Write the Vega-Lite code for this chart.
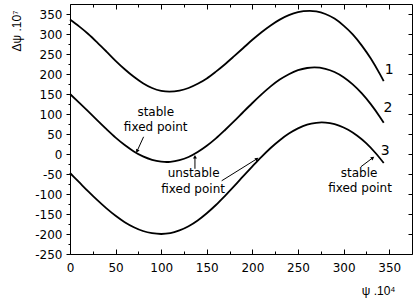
{
  "$schema": "https://vega.github.io/schema/vega-lite/v6.json",
  "width": 342,
  "height": 250,
  "autosize": {"type": "none"},
  "padding": {"left": 70, "top": 4, "right": 3, "bottom": 45},
  "background": "white",
  "config": {
    "view": {"stroke": "black", "strokeWidth": 1},
    "axis": {
      "grid": false,
      "domain": false,
      "labelFont": "DejaVu Sans",
      "labelFontSize": 12,
      "labelColor": "black",
      "tickColor": "black",
      "tickWidth": 1,
      "labelFlush": false,
      "titleFont": "Liberation Sans",
      "titleFontSize": 12,
      "titleFontWeight": "normal",
      "titleColor": "black"
    },
    "text": {"font": "DejaVu Sans", "fontSize": 12, "color": "black"}
  },
  "datasets": {
    "curves": [
      {"c": "1", "x": 0, "y": 336}, {"c": "1", "x": 10, "y": 319}, {"c": "1", "x": 20, "y": 300}, {"c": "1", "x": 30, "y": 278.5}, {"c": "1", "x": 40, "y": 256}, {"c": "1", "x": 50, "y": 233}, {"c": "1", "x": 60, "y": 212}, {"c": "1", "x": 70, "y": 193}, {"c": "1", "x": 80, "y": 177}, {"c": "1", "x": 90, "y": 165}, {"c": "1", "x": 100, "y": 158}, {"c": "1", "x": 109, "y": 156}, {"c": "1", "x": 120, "y": 158.5}, {"c": "1", "x": 130, "y": 165}, {"c": "1", "x": 140, "y": 175.5}, {"c": "1", "x": 150, "y": 189}, {"c": "1", "x": 160, "y": 206}, {"c": "1", "x": 170, "y": 224.5}, {"c": "1", "x": 180, "y": 244.5}, {"c": "1", "x": 190, "y": 265}, {"c": "1", "x": 200, "y": 285.5}, {"c": "1", "x": 210, "y": 304.5}, {"c": "1", "x": 220, "y": 321.5}, {"c": "1", "x": 230, "y": 336}, {"c": "1", "x": 240, "y": 347}, {"c": "1", "x": 250, "y": 354.5}, {"c": "1", "x": 256, "y": 357}, {"c": "1", "x": 263, "y": 358}, {"c": "1", "x": 270, "y": 356.5}, {"c": "1", "x": 280, "y": 350}, {"c": "1", "x": 290, "y": 338.5}, {"c": "1", "x": 300, "y": 321}, {"c": "1", "x": 310, "y": 299}, {"c": "1", "x": 320, "y": 271}, {"c": "1", "x": 330, "y": 238}, {"c": "1", "x": 340, "y": 199}, {"c": "1", "x": 344, "y": 182},
      {"c": "2", "x": 0, "y": 150}, {"c": "2", "x": 10, "y": 128.5}, {"c": "2", "x": 20, "y": 106.5}, {"c": "2", "x": 30, "y": 84}, {"c": "2", "x": 40, "y": 62}, {"c": "2", "x": 50, "y": 41}, {"c": "2", "x": 60, "y": 22.5}, {"c": "2", "x": 70, "y": 6.5}, {"c": "2", "x": 80, "y": -6}, {"c": "2", "x": 90, "y": -14.5}, {"c": "2", "x": 100, "y": -19}, {"c": "2", "x": 106, "y": -20}, {"c": "2", "x": 110, "y": -19.5}, {"c": "2", "x": 120, "y": -15.5}, {"c": "2", "x": 130, "y": -7.5}, {"c": "2", "x": 140, "y": 5}, {"c": "2", "x": 150, "y": 20.5}, {"c": "2", "x": 160, "y": 39}, {"c": "2", "x": 170, "y": 60}, {"c": "2", "x": 180, "y": 82}, {"c": "2", "x": 190, "y": 105}, {"c": "2", "x": 200, "y": 127.5}, {"c": "2", "x": 210, "y": 149}, {"c": "2", "x": 220, "y": 169}, {"c": "2", "x": 230, "y": 186}, {"c": "2", "x": 240, "y": 199.5}, {"c": "2", "x": 250, "y": 209.5}, {"c": "2", "x": 260, "y": 215}, {"c": "2", "x": 268, "y": 216.5}, {"c": "2", "x": 280, "y": 213}, {"c": "2", "x": 290, "y": 205}, {"c": "2", "x": 300, "y": 192}, {"c": "2", "x": 310, "y": 174}, {"c": "2", "x": 320, "y": 151.5}, {"c": "2", "x": 330, "y": 124}, {"c": "2", "x": 340, "y": 92}, {"c": "2", "x": 344, "y": 78},
      {"c": "3", "x": 0, "y": -47.5}, {"c": "3", "x": 10, "y": -70.5}, {"c": "3", "x": 20, "y": -93.5}, {"c": "3", "x": 30, "y": -115.5}, {"c": "3", "x": 40, "y": -136}, {"c": "3", "x": 50, "y": -154.5}, {"c": "3", "x": 60, "y": -170.5}, {"c": "3", "x": 70, "y": -183}, {"c": "3", "x": 80, "y": -192.5}, {"c": "3", "x": 90, "y": -198}, {"c": "3", "x": 100, "y": -200}, {"c": "3", "x": 110, "y": -198}, {"c": "3", "x": 120, "y": -191}, {"c": "3", "x": 130, "y": -180.5}, {"c": "3", "x": 140, "y": -166}, {"c": "3", "x": 150, "y": -148}, {"c": "3", "x": 160, "y": -127.5}, {"c": "3", "x": 170, "y": -104.5}, {"c": "3", "x": 180, "y": -80.5}, {"c": "3", "x": 190, "y": -55.5}, {"c": "3", "x": 200, "y": -31}, {"c": "3", "x": 210, "y": -7}, {"c": "3", "x": 220, "y": 15}, {"c": "3", "x": 230, "y": 34.5}, {"c": "3", "x": 240, "y": 51}, {"c": "3", "x": 250, "y": 64}, {"c": "3", "x": 260, "y": 73.5}, {"c": "3", "x": 270, "y": 78}, {"c": "3", "x": 276, "y": 79}, {"c": "3", "x": 285, "y": 77}, {"c": "3", "x": 295, "y": 71}, {"c": "3", "x": 305, "y": 60.5}, {"c": "3", "x": 315, "y": 45.5}, {"c": "3", "x": 325, "y": 26.5}, {"c": "3", "x": 335, "y": 2.5}, {"c": "3", "x": 344, "y": -22.5}
    ],
    "notes": [
      {"x": 94, "y": 106, "t": "stable"},
      {"x": 94, "y": 68, "t": "fixed point"},
      {"x": 135.5, "y": -47, "t": "unstable"},
      {"x": 135, "y": -87, "t": "fixed point"},
      {"x": 317, "y": -47, "t": "stable"},
      {"x": 318, "y": -84, "t": "fixed point"}
    ],
    "numbers": [
      {"x": 350, "y": 211, "t": "1"},
      {"x": 348.5, "y": 116, "t": "2"},
      {"x": 345.5, "y": 8, "t": "3"}
    ],
    "arrows": [
      {"id": "a1", "x": 80.7, "y": 43, "x2": 73.5, "y2": 7},
      {"id": "a2", "x": 137, "y": -37, "x2": 137, "y2": -7},
      {"id": "a3", "x": 166.3, "y": -67, "x2": 205, "y2": -12},
      {"id": "a4", "x": 318.9, "y": -32, "x2": 332, "y2": -9.5}
    ]
  },
  "resolve": {"axis": {"x": "independent", "y": "independent"}},
  "layer": [
    {
      "mark": {"type": "rule", "strokeWidth": 1.2, "color": "black"},
      "encoding": {
        "y": {"datum": 0, "type": "quantitative", "scale": {"domain": [-250, 375], "nice": false, "zero": false}, "axis": null}
      }
    },
    {
      "data": {"name": "curves"},
      "mark": {"type": "line", "strokeWidth": 1.8, "color": "black", "interpolate": "monotone"},
      "encoding": {
        "detail": {"field": "c"},
        "x": {"field": "x", "type": "quantitative", "scale": {"domain": [0, 375], "nice": false, "zero": false},
          "axis": {"orient": "bottom", "values": [0, 50, 100, 150, 200, 250, 300, 350], "tickSize": -5, "labelPadding": 13,
            "title": "ψ .10⁴", "titleX": 325, "titleY": 36, "titleAlign": "right", "titleBaseline": "middle", "titleAnchor": "end"}},
        "y": {"field": "y", "type": "quantitative", "scale": {"domain": [-250, 375], "nice": false, "zero": false},
          "axis": {"orient": "left", "values": [-250, -200, -150, -100, -50, 0, 50, 100, 150, 200, 250, 300, 350], "tickSize": 4, "labelPadding": 4,
            "labelExpr": "replace(datum.label, '−', '-')",
            "title": "Δψ .10⁷", "titleX": -54, "titleY": 6, "titleAngle": -90, "titleAlign": "right", "titleBaseline": "middle", "titleAnchor": "end"}}
      }
    },
    {
      "data": {"name": "arrows"},
      "mark": {"type": "rule", "strokeWidth": 1, "color": "black"},
      "encoding": {
        "x": {"field": "x", "type": "quantitative", "scale": {"domain": [0, 375], "nice": false, "zero": false},
          "axis": {"orient": "top", "values": [0, 50, 100, 150, 200, 250, 300, 350], "tickSize": -5, "labels": false, "title": null}},
        "y": {"field": "y", "type": "quantitative", "scale": {"domain": [-250, 375], "nice": false, "zero": false},
          "axis": {"orient": "right", "values": [-250, -200, -150, -100, -50, 0, 50, 100, 150, 200, 250, 300, 350], "tickSize": -4, "labels": false, "title": null}},
        "x2": {"field": "x2"},
        "y2": {"field": "y2"}
      }
    },
    {
      "data": {"name": "arrows"},
      "transform": [{"filter": "datum.id === 'a1'"}],
      "mark": {"type": "point", "shape": "triangle-up", "filled": true, "color": "black", "size": 16, "angle": 207, "opacity": 1},
      "encoding": {
        "x": {"field": "x2", "type": "quantitative", "scale": {"domain": [0, 375], "nice": false, "zero": false},
          "axis": {"orient": "top", "values": [25, 75, 125, 175, 225, 275, 325], "tickSize": -3, "labels": false, "title": null}},
        "y": {"field": "y2", "type": "quantitative", "scale": {"domain": [-250, 375], "nice": false, "zero": false}, "axis": null}
      }
    },
    {
      "data": {"name": "arrows"},
      "transform": [{"filter": "datum.id === 'a2'"}],
      "mark": {"type": "point", "shape": "triangle-up", "filled": true, "color": "black", "size": 16, "angle": 0, "opacity": 1},
      "encoding": {
        "x": {"field": "x2", "type": "quantitative", "scale": {"domain": [0, 375], "nice": false, "zero": false}, "axis": null},
        "y": {"field": "y2", "type": "quantitative", "scale": {"domain": [-250, 375], "nice": false, "zero": false}, "axis": null}
      }
    },
    {
      "data": {"name": "arrows"},
      "transform": [{"filter": "datum.id === 'a3' || datum.id === 'a4'"}],
      "mark": {"type": "point", "shape": "triangle-up", "filled": true, "color": "black", "size": 16, "angle": 55, "opacity": 1},
      "encoding": {
        "x": {"field": "x2", "type": "quantitative", "scale": {"domain": [0, 375], "nice": false, "zero": false}, "axis": null},
        "y": {"field": "y2", "type": "quantitative", "scale": {"domain": [-250, 375], "nice": false, "zero": false}, "axis": null}
      }
    },
    {
      "data": {"name": "notes"},
      "mark": {"type": "text", "baseline": "middle", "align": "center", "font": "DejaVu Sans", "fontSize": 12},
      "encoding": {
        "x": {"field": "x", "type": "quantitative", "scale": {"domain": [0, 375], "nice": false, "zero": false},
          "axis": {"orient": "bottom", "values": [25, 75, 125, 175, 225, 275, 325], "tickSize": -3, "labels": false, "title": null}},
        "y": {"field": "y", "type": "quantitative", "scale": {"domain": [-250, 375], "nice": false, "zero": false},
          "axis": {"orient": "left", "values": [-225, -175, -125, -75, -25, 25, 75, 125, 175, 225, 275, 325], "tickSize": 2, "labels": false, "title": null}},
        "text": {"field": "t"}
      }
    },
    {
      "data": {"name": "numbers"},
      "mark": {"type": "text", "baseline": "middle", "align": "center", "font": "DejaVu Sans", "fontSize": 14},
      "encoding": {
        "x": {"field": "x", "type": "quantitative", "scale": {"domain": [0, 375], "nice": false, "zero": false}, "axis": null},
        "y": {"field": "y", "type": "quantitative", "scale": {"domain": [-250, 375], "nice": false, "zero": false}, "axis": null},
        "text": {"field": "t"}
      }
    }
  ]
}
